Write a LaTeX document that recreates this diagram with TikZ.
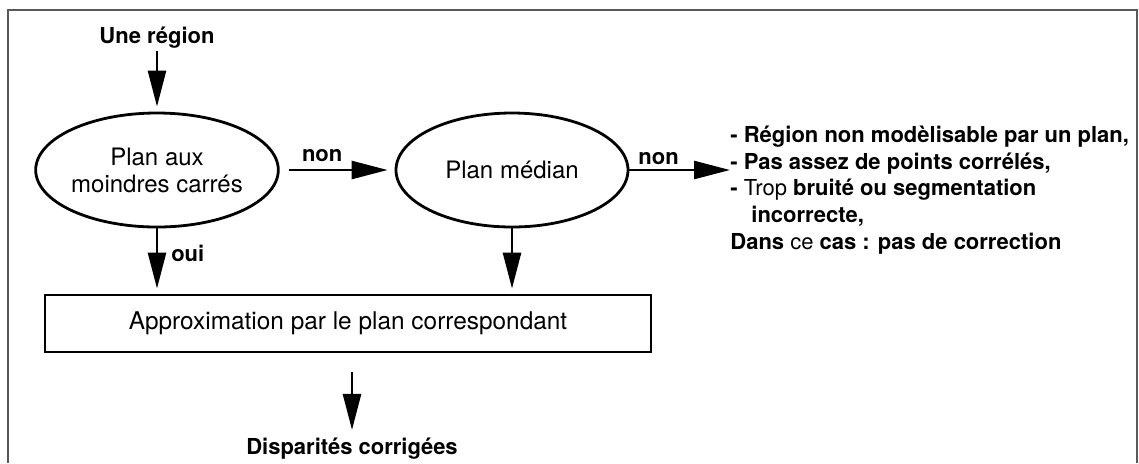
\documentclass[tikz,border=0pt]{standalone}
\usepackage{fontspec}
\setmainfont{TeX Gyre Heros}
\usetikzlibrary{positioning,arrows.meta,shapes.geometric}
\tikzset{
    on grid,
    auto,
    choice/.style = {
        draw,
        shape=ellipse,
        inner sep=0pt,
        minimum width=116pt,
        minimum height=57pt,
        line width=1.4pt,
        align=center,
        font=\fontsize{12}{13.5}\selectfont
    },
    block/.style = {
        draw,
        shape=rectangle,
        minimum width=303pt,
        minimum height=28.5pt,
        line width=1.4pt,
        font=\fontsize{12.2}{14}\selectfont
    },
    term/.style = {
        inner sep=1pt,
        font=\fontsize{11}{13.3}\selectfont\bfseries
    },
    flow/.style = {
        draw,
        ->,
        line width=1.3pt
    },
    frame/.style = {
        draw,
        line width=0.9pt,
        gray!70!black
    },
    >={Triangle[length=18pt,width=9pt]},
}

\begin{document}
\begin{tikzpicture}
        \useasboundingbox (0pt,0pt) rectangle (569.5pt,-231.5pt);
        \path[frame] (4pt,-231.5pt) -- (4pt,-5pt) -- (568.5pt,-5pt) -- (568.5pt,-231.5pt);

        \node[term] (region) at (78.5pt,-19pt) {Une région};
        \node[choice, below=66pt of region] (lsq) {Plan aux\\moindres carrés};
        \node[choice, right=177.5pt of lsq] (median) {Plan médian};
        \node[block, below right=76.75pt and 95.5pt of lsq] (approx) {Approximation par le plan correspondant};
        \node[term, below=62.75pt of approx, xshift=2pt] (result) {Disparités corrigées};

        \node[term, inner sep=0pt, align=left,
              right=109pt of median, anchor=west, yshift=-10pt] (fail) {%
            - Région non modèlisable par un plan,\\
            - Pas assez de points corrélés,\\
            - {\mdseries Trop} bruité ou segmentation\\
            \hspace*{10.5pt}incorrecte,\\
            Dans {\mdseries ce} cas : pas de correction};

        \path[flow, shorten >=2.5pt] (region) -- (lsq);
        \path[flow, shorten <=4.5pt, shorten >=3.5pt] (lsq) -- node[term, pos=0.37, above=2.5pt] {non} (median);
        \path[flow] (median) -- node[term, pos=0.29, above=1pt] {non} (median.east -| fail.west);

        \path[flow, shorten >=2.5pt] (lsq) -- node[term, pos=0.38, right=5.5pt] {oui} (lsq |- approx.north);
        \path[flow, shorten >=2.5pt] (median) -- (median |- approx.north);

        \path[flow, shorten <=9.5pt, shorten >=3pt] (approx.south -| result) -- (result);

    \end{tikzpicture}
\end{document}
